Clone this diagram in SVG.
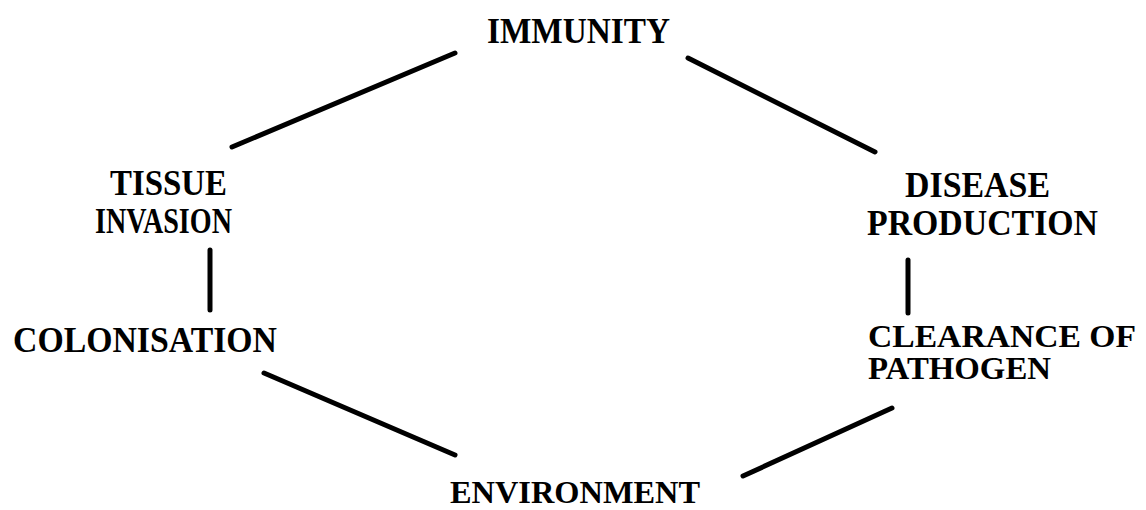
<svg xmlns="http://www.w3.org/2000/svg" width="1146" height="510" viewBox="0 0 1146 510">
<style>
text{font-family:"Liberation Serif","Times New Roman",serif;font-weight:bold;font-size:35px;fill:#000}
.s{font-size:31px}
.c line{stroke:#000;stroke-width:5;stroke-linecap:round}
</style>
<rect width="1146" height="510" fill="#fff"/>
<g id="immunity"><text x="487" y="43" textLength="183" lengthAdjust="spacingAndGlyphs">IMMUNITY</text></g>
<g id="tissue-invasion"><text x="110" y="195" textLength="117" lengthAdjust="spacingAndGlyphs">TISSUE</text><text x="95" y="233" textLength="137" lengthAdjust="spacingAndGlyphs">INVASION</text></g>
<g id="colonisation"><text x="13" y="352" textLength="264" lengthAdjust="spacingAndGlyphs">COLONISATION</text></g>
<g id="disease-production"><text x="905" y="197" textLength="145" lengthAdjust="spacingAndGlyphs">DISEASE</text><text x="867" y="235" textLength="231" lengthAdjust="spacingAndGlyphs">PRODUCTION</text></g>
<g id="clearance"><text class="s" x="868" y="347" textLength="268" lengthAdjust="spacingAndGlyphs">CLEARANCE OF</text><text class="s" x="868" y="379" textLength="183" lengthAdjust="spacingAndGlyphs">PATHOGEN</text></g>
<g id="environment"><text class="s" x="450" y="503" textLength="250" lengthAdjust="spacingAndGlyphs">ENVIRONMENT</text></g>
<g class="c" id="connectors">
<line x1="232" y1="147" x2="455" y2="53"/>
<line x1="688" y1="58" x2="875" y2="152"/>
<line x1="210" y1="250" x2="210" y2="310"/>
<line x1="908" y1="260" x2="908" y2="313"/>
<line x1="264" y1="373" x2="455" y2="455"/>
<line x1="743" y1="476" x2="892" y2="408"/>
</g>
</svg>
